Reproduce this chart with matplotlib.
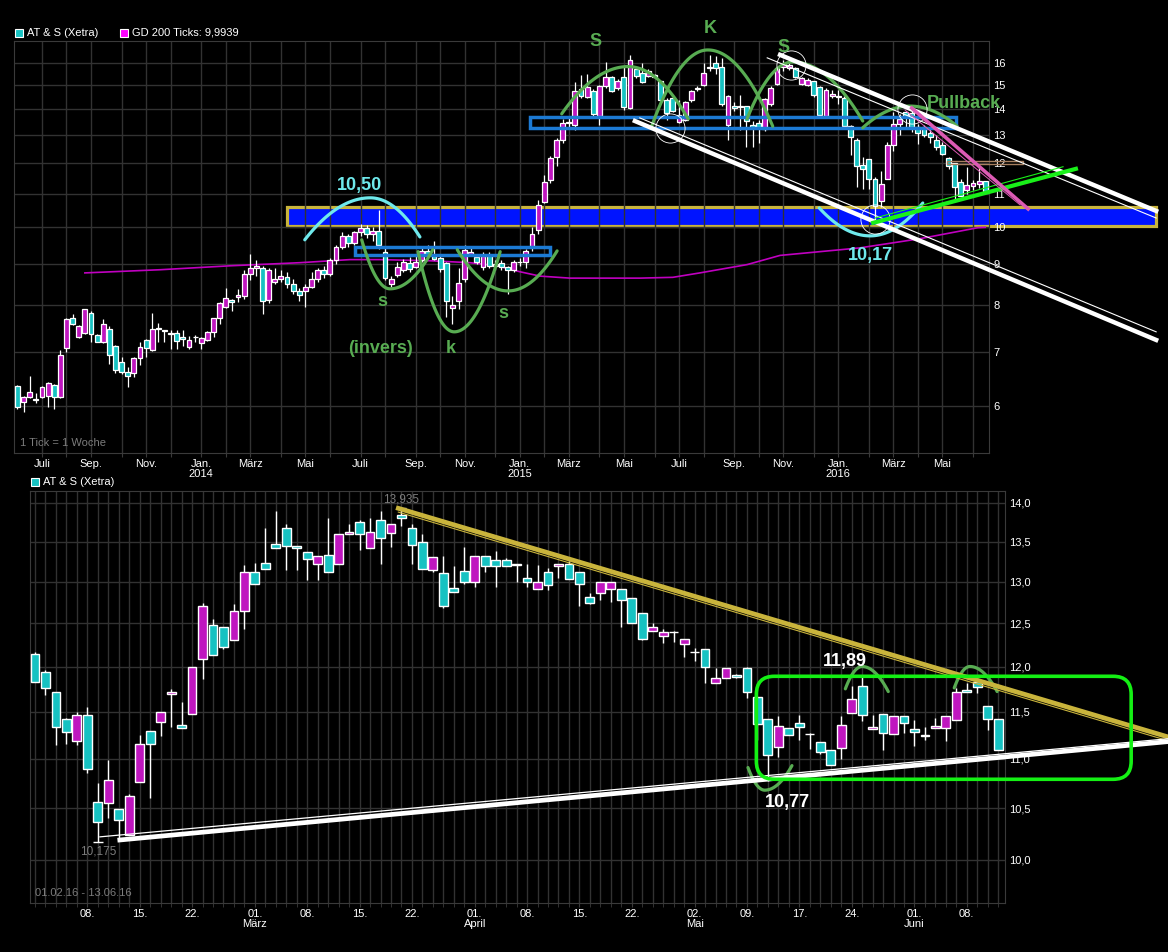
import datetime as dt
import numpy as np
import pandas as pd
import matplotlib
matplotlib.use('Agg')
import matplotlib.pyplot as plt
from matplotlib.patches import Rectangle, FancyBboxPatch
from matplotlib.transforms import IdentityTransform
from matplotlib.ticker import FixedLocator, NullLocator

plt.rcParams['font.family'] = ['Liberation Sans', 'DejaVu Sans']

## Weekly candles AT&S (Xetra), weeks starting 03.06.2013 ... 13.06.2016
w_open = [6.34, 6.06, 6.15, 6.11, 6.15, 6.17, 6.36, 6.15, 7.07, 7.70,
          7.30, 7.39, 7.81, 7.35, 7.20, 7.48, 7.11, 6.80, 6.60, 6.58,
          6.88, 7.23, 7.04, 7.50, 7.44, 7.38, 7.38, 7.31, 7.10, 7.31,
          7.18, 7.24, 7.40, 7.70, 7.95, 8.12, 8.18, 8.20, 8.75, 8.90,
          8.90, 8.12, 8.55, 8.62, 8.68, 8.50, 8.32, 8.32, 8.42, 8.62,
          8.85, 8.75, 9.10, 9.45, 9.75, 9.55, 9.85, 9.98, 9.80, 9.90,
          9.32, 8.50, 8.72, 8.84, 9.01, 8.93, 9.11, 9.34, 9.20, 9.14,
          9.01, 7.93, 8.10, 8.61, 9.26, 9.18, 8.91, 9.23, 8.95, 9.01,
          8.91, 8.85, 9.06, 9.05, 9.45, 9.92, 10.75, 11.44, 12.21, 12.83,
          13.45, 13.40, 14.82, 14.50, 14.75, 13.72, 14.97, 15.34, 14.88, 15.37,
          14.06, 15.70, 15.55, 15.40, 15.43, 15.17, 14.38, 14.45, 13.52, 13.58,
          14.38, 14.82, 15.01, 15.75, 16.00, 15.82, 13.40, 14.15, 14.12, 14.12,
          13.40, 13.48, 13.23, 14.22, 15.07, 15.80, 15.75, 15.75, 15.07, 15.01,
          15.17, 14.91, 13.72, 14.53, 14.55, 14.48, 13.36, 12.83, 11.95, 12.14,
          11.46, 10.76, 11.48, 12.64, 13.44, 13.88, 13.84, 13.30, 13.30, 13.10,
          12.83, 12.64, 12.17, 12.00, 11.38, 11.11, 11.25, 11.32, 11.42]
w_high = [6.36, 6.17, 6.54, 6.22, 6.35, 6.42, 6.38, 7.03, 7.70, 7.79,
          7.56, 7.92, 7.87, 7.37, 7.69, 7.53, 7.13, 6.90, 6.70, 6.90,
          7.20, 7.25, 7.81, 7.60, 7.45, 7.44, 7.45, 7.45, 7.33, 7.35,
          7.30, 7.43, 7.72, 8.06, 8.39, 8.14, 8.38, 8.85, 9.25, 9.10,
          8.95, 8.90, 8.90, 8.85, 8.80, 8.62, 8.40, 8.50, 8.80, 8.90,
          8.95, 9.15, 9.50, 9.85, 9.80, 9.90, 10.10, 10.05, 10.00, 10.50,
          9.45, 8.70, 9.06, 9.13, 9.18, 9.20, 9.45, 9.50, 9.60, 9.20,
          9.05, 8.20, 8.90, 9.50, 9.45, 9.25, 9.32, 9.30, 9.10, 9.10,
          8.95, 9.10, 9.15, 9.40, 9.99, 10.81, 11.60, 12.25, 12.90, 13.60,
          13.70, 15.15, 15.45, 15.50, 14.85, 15.00, 16.05, 15.40, 15.25, 15.82,
          16.36, 15.80, 16.00, 15.70, 15.50, 15.20, 14.45, 14.50, 14.38, 14.35,
          14.80, 14.95, 15.97, 16.35, 16.30, 16.20, 14.60, 14.30, 14.59, 14.15,
          13.55, 13.58, 14.45, 14.95, 15.80, 16.10, 16.00, 15.80, 15.35, 15.30,
          15.20, 14.95, 14.90, 14.80, 14.80, 14.55, 13.40, 12.90, 12.20, 12.14,
          11.55, 11.75, 12.74, 13.89, 13.80, 13.93, 13.935, 13.43, 13.38, 13.25,
          13.00, 12.75, 12.21, 12.00, 11.46, 11.87, 11.45, 11.87, 11.42]
w_low = [5.95, 5.89, 6.13, 6.04, 6.13, 5.98, 5.94, 6.13, 7.00, 7.55,
         7.28, 7.37, 7.20, 7.19, 7.18, 6.76, 6.58, 6.57, 6.33, 6.52,
         6.74, 6.90, 7.02, 7.20, 7.20, 7.05, 7.05, 7.12, 7.05, 7.20,
         7.05, 7.22, 7.31, 7.57, 7.93, 7.87, 8.08, 8.15, 8.60, 8.70,
         7.80, 8.05, 8.50, 8.55, 8.40, 8.25, 8.10, 7.96, 8.40, 8.55,
         8.65, 8.70, 9.00, 9.40, 9.45, 9.50, 9.75, 9.70, 9.60, 9.40,
         8.60, 8.42, 8.66, 8.80, 8.80, 8.90, 9.05, 9.20, 9.10, 8.80,
         7.73, 7.57, 7.90, 8.55, 9.20, 9.00, 8.85, 8.90, 8.85, 8.85,
         8.25, 8.80, 8.95, 8.90, 9.35, 9.80, 10.70, 11.35, 11.92, 12.70,
         13.30, 13.20, 14.45, 14.45, 13.70, 13.39, 14.90, 14.70, 14.80, 13.98,
         14.00, 15.30, 15.10, 15.35, 15.30, 14.30, 13.58, 13.90, 13.45, 13.55,
         14.30, 14.75, 14.95, 15.60, 15.50, 14.15, 12.83, 13.95, 13.20, 12.58,
         12.58, 12.70, 13.15, 14.15, 15.00, 15.60, 15.65, 15.30, 15.00, 14.95,
         14.50, 13.70, 13.65, 14.45, 14.20, 13.30, 12.30, 11.20, 11.15, 11.14,
         10.17, 10.60, 11.48, 12.43, 13.02, 13.22, 13.12, 12.68, 12.93, 12.71,
         12.46, 12.27, 11.82, 10.77, 10.94, 11.00, 11.13, 11.19, 11.09]
w_close = [5.97, 6.15, 6.24, 6.10, 6.33, 6.40, 6.15, 6.94, 7.68, 7.58,
           7.53, 7.90, 7.36, 7.20, 7.57, 6.94, 6.65, 6.60, 6.54, 6.88,
           7.10, 7.07, 7.48, 7.46, 7.43, 7.37, 7.22, 7.26, 7.23, 7.31,
           7.29, 7.41, 7.70, 8.04, 8.16, 8.07, 8.23, 8.75, 8.90, 8.95,
           8.10, 8.85, 8.62, 8.70, 8.50, 8.32, 8.23, 8.42, 8.62, 8.85,
           8.75, 9.10, 9.45, 9.75, 9.55, 9.85, 9.98, 9.80, 9.90, 9.50,
           8.64, 8.62, 8.93, 9.05, 8.86, 9.06, 9.35, 9.23, 9.12, 8.86,
           8.09, 8.00, 8.53, 9.37, 9.32, 9.06, 9.20, 8.95, 9.00, 8.91,
           8.85, 9.04, 9.05, 9.35, 9.80, 10.65, 11.38, 12.19, 12.83, 13.45,
           13.50, 14.75, 14.54, 14.91, 13.82, 14.97, 15.37, 14.75, 15.18, 14.10,
           16.12, 15.40, 15.14, 15.62, 15.34, 14.38, 13.85, 13.94, 13.78, 14.31,
           14.76, 14.86, 15.55, 15.80, 15.75, 14.22, 14.55, 14.07, 14.08, 13.53,
           13.30, 13.30, 14.40, 14.90, 15.75, 15.95, 15.90, 15.37, 15.30, 15.23,
           14.59, 13.78, 14.80, 14.62, 14.50, 13.36, 12.93, 11.92, 11.80, 11.46,
           10.62, 11.32, 12.64, 13.44, 13.60, 13.72, 13.31, 13.09, 13.01, 12.95,
           12.57, 12.32, 11.90, 11.22, 10.94, 11.28, 11.35, 11.42, 11.09]
week_start = dt.date(2013, 6, 3)

## GD 200 (week index, value)
gd_week = [11, 23.3, 34.7, 46.1, 54.3, 59.2, 67.3, 73.9, 78.3, 82, 85.3, 90.2,
           101.6, 107, 111.4, 119.1, 124.5, 137.5, 147.3, 156.8, 158]
gd_value = [8.77, 8.85, 8.95, 9.03, 9.11, 9.11, 9.08, 9.03, 8.95, 8.80, 8.69, 8.64,
            8.64, 8.66, 8.77, 8.98, 9.22, 9.42, 9.67, 9.98, 9.99]

## Daily candles 01.02.16 - 13.06.16
d_open = [12.14, 11.94, 11.71, 11.42, 11.19, 11.46, 10.56, 10.55, 10.49, 10.24,
          10.76, 11.29, 11.39, 11.69, 11.36, 11.48, 12.09, 12.48, 12.45, 12.30,
          12.64, 13.12, 13.23, 13.47, 13.68, 13.44, 13.37, 13.22, 13.33, 13.22,
          13.60, 13.75, 13.42, 13.78, 13.61, 13.84, 13.68, 13.50, 13.14, 13.10,
          12.92, 13.13, 13.00, 13.32, 13.27, 13.27, 13.22, 13.05, 12.91, 13.12,
          13.19, 13.22, 13.12, 12.81, 12.86, 12.91, 12.91, 12.80, 12.62, 12.41,
          12.35, 12.40, 12.26, 12.16, 12.20, 11.81, 11.87, 11.90, 11.98, 11.66,
          11.42, 11.12, 11.32, 11.38, 11.26, 11.18, 11.09, 11.11, 11.49, 11.78,
          11.31, 11.47, 11.26, 11.45, 11.31, 11.25, 11.32, 11.32, 11.41, 11.74,
          11.83, 11.56, 11.42]
d_high = [12.16, 11.96, 11.72, 11.43, 11.50, 11.55, 10.75, 10.99, 10.49, 10.64,
          11.25, 11.29, 11.50, 11.75, 11.61, 12.00, 12.74, 12.55, 12.45, 12.73,
          13.20, 13.23, 13.67, 13.89, 13.72, 13.44, 13.37, 13.32, 13.80, 13.60,
          13.73, 13.78, 13.80, 13.90, 13.72, 13.935, 13.72, 13.60, 13.31, 13.32,
          13.19, 13.43, 13.32, 13.32, 13.38, 13.29, 13.22, 13.22, 13.20, 13.17,
          13.22, 13.25, 13.12, 12.86, 13.00, 13.00, 12.91, 12.80, 12.62, 12.50,
          12.43, 12.41, 12.31, 12.21, 12.20, 11.98, 11.98, 11.92, 12.00, 11.66,
          11.42, 11.45, 11.32, 11.46, 11.27, 11.18, 11.09, 11.45, 11.78, 11.89,
          11.46, 11.47, 11.45, 11.45, 11.41, 11.34, 11.43, 11.45, 11.76, 11.82,
          11.87, 11.56, 11.42]
d_low = [11.83, 11.68, 11.14, 11.16, 11.14, 10.85, 10.175, 10.40, 10.19, 10.24,
         10.76, 10.60, 11.24, 11.34, 11.32, 11.48, 11.86, 12.13, 12.20, 12.30,
         12.43, 12.97, 13.16, 13.42, 13.14, 13.14, 13.02, 13.02, 13.12, 13.22,
         13.60, 13.39, 13.42, 13.22, 13.43, 13.70, 13.22, 13.16, 13.12, 12.68,
         12.87, 12.97, 12.93, 13.12, 12.93, 13.19, 13.00, 12.93, 12.91, 12.90,
         13.05, 13.03, 12.71, 12.73, 12.78, 12.75, 12.46, 12.50, 12.30, 12.41,
         12.27, 12.28, 12.11, 12.06, 11.82, 11.81, 11.87, 11.87, 11.65, 11.20,
         10.77, 11.02, 11.25, 11.20, 11.10, 11.05, 10.94, 11.00, 11.49, 11.40,
         11.31, 11.09, 11.26, 11.27, 11.13, 11.20, 11.32, 11.19, 11.41, 11.72,
         11.70, 11.30, 11.09]
d_close = [11.83, 11.76, 11.34, 11.28, 11.46, 10.90, 10.36, 10.78, 10.38, 10.62,
           11.15, 11.16, 11.50, 11.72, 11.32, 12.00, 12.70, 12.13, 12.22, 12.64,
           13.12, 12.97, 13.16, 13.42, 13.44, 13.42, 13.28, 13.32, 13.12, 13.60,
           13.62, 13.60, 13.62, 13.55, 13.72, 13.80, 13.45, 13.16, 13.31, 12.70,
           12.87, 13.00, 13.32, 13.19, 13.19, 13.19, 13.20, 12.99, 13.00, 12.96,
           13.22, 13.03, 12.97, 12.74, 13.00, 13.00, 12.78, 12.50, 12.32, 12.46,
           12.40, 12.40, 12.31, 12.16, 12.00, 11.87, 11.98, 11.88, 11.72, 11.37,
           11.04, 11.35, 11.25, 11.34, 11.26, 11.07, 10.94, 11.36, 11.64, 11.46,
           11.34, 11.27, 11.45, 11.38, 11.28, 11.24, 11.35, 11.45, 11.71, 11.72,
           11.77, 11.42, 11.09]
holidays = ['2016-03-25', '2016-03-28', '2016-05-16']
day_ticks = ['2016-02-08', '2016-02-15', '2016-02-22', '2016-03-01', '2016-03-08',
             '2016-03-15', '2016-03-22', '2016-04-01', '2016-04-08', '2016-04-15',
             '2016-04-22', '2016-05-02', '2016-05-09', '2016-05-17', '2016-05-24',
             '2016-06-01', '2016-06-08']
month_de = {1: 'Jan.', 2: 'Feb.', 3: 'März', 4: 'April', 5: 'Mai', 6: 'Juni',
            7: 'Juli', 8: 'Aug.', 9: 'Sep.', 10: 'Okt.', 11: 'Nov.', 12: 'Dez.'}

## Drawings on the weekly chart (week index, price)
zone = (44.0, 185.9, 10.02, 10.58)
neck_boxes = [(55.1, 86.9, 9.24, 9.45), (83.6, 153.3, 13.29, 13.69)]
green_arcs = [((56.2, 9.64), (60.8, 8.38), (67.8, 9.37)),
              ((65.4, 9.32), (71.3, 7.41), (78.8, 9.32)),
              ((71.8, 9.37), (80.1, 8.33), (88.1, 9.34)),
              ((88.85, 13.82), (99.7, 15.82), (109.5, 13.62)),
              ((103.5, 13.32), (112.7, 16.59), (123.3, 13.34)),
              ((119.1, 13.62), (126.6, 16.03), (138.0, 13.54)),
              ((138.0, 13.28), (145.7, 14.13), (153.4, 13.34))]
green_words = [('s', 59.5, 8.07), ('(invers)', 59.3, 7.06), ('k', 70.8, 7.06),
               ('s', 79.3, 7.82), ('S', 94.3, 16.98), ('K', 113.1, 17.62),
               ('S', 125.0, 16.73), ('Pullback', 154.5, 14.22)]
cyan_arcs = [((46.9, 9.64), (57.6, 10.87), (65.7, 9.72)),
             ((130.9, 10.56), (139.2, 9.75), (147.8, 10.71))]
cyan_words = [('10,50', 55.9, 11.25), ('10,17', 139.2, 9.23)]
white_lines = [((124.5, 16.36), (185.9, 10.47), 3.2), ((122.4, 16.22), (185.9, 10.26), 0.8),
               ((100.8, 13.54), (185.9, 7.24), 3.2), ((101.6, 13.66), (185.9, 7.41), 0.8)]
lime_lines = [((139.7, 10.12), (172.8, 11.81), 3.0), ((140.0, 10.26), (170.7, 11.88), 0.8)]
pink_lines = [((146.0, 14.05), (165.0, 10.53), 2.6), ((144.9, 13.97), (163.7, 10.65), 0.7)]
tan_box = (151.8, 164.2, 11.98, 12.08)
rings = [(106.5, 13.28), (126.3, 15.9), (146.0, 14.02), (140.0, 10.23)]

## Drawings on the daily chart (day index, price)
yellow_lines = [((34.7, 13.93), (108.2, 11.23), 3.4), ((34.7, 13.88), (108.2, 11.19), 0.8)]
support_lines = [((8.1, 10.19), (108.2, 11.18), 3.4), ((6.2, 10.22), (108.2, 11.21), 0.9)]
range_box = (68.9, 104.7, 10.79, 11.89)
d_green_arcs = [((77.4, 11.75), (79.0, 12.0), (81.5, 11.72)),
                ((87.8, 11.76), (89.3, 12.0), (91.9, 11.72)),
                ((68.1, 10.91), (69.7, 10.68), (72.3, 10.93))]
d_words = [('11,89', 77.4, 12.06), ('10,77', 71.9, 10.56)]

CYAN = '#16c2c2'
MAGENTA = '#bf16bf'
GRID = '#323232'
GREEN = '#58ac52'
LIGHTCYAN = '#6fe9ec'
W, H = 1168, 952


def draw_candles(ax, o, h, l, c, width, lw):
    x = np.arange(len(o))
    o, h, l, c = map(np.asarray, (o, h, l, c))
    ax.vlines(x, l, h, color='white', lw=lw, zorder=3)
    for xi, oi, ci in zip(x, o, c):
        b, t = min(oi, ci), max(oi, ci)
        ax.add_patch(Rectangle((xi - width / 2, b), width, t - b,
                               facecolor=MAGENTA if ci >= oi else CYAN,
                               edgecolor='white', lw=lw, zorder=4))


def arc(ax, p0, pk, p1, **kw):
    t = np.linspace(0, 1, 40)
    ya, yk, yb = np.log([p0[1], pk[1], p1[1]])
    x = np.r_[p0[0] + (pk[0] - p0[0]) * t, pk[0] + (p1[0] - pk[0]) * t]
    y = np.r_[yk + (ya - yk) * (1 - t) ** 2, yk + (yb - yk) * t ** 2]
    ax.plot(x, np.exp(y), clip_on=False, solid_capstyle='round', zorder=6, **kw)


def style(ax):
    ax.set_facecolor('black')
    for s in ax.spines.values():
        s.set_color('#3a3a3a')
    ax.set_axisbelow(True)
    ax.set_yscale('log')
    ax.yaxis.tick_right()
    ax.yaxis.set_minor_locator(NullLocator())
    ax.tick_params(colors='white', labelsize=8)
    ax.tick_params(axis='y', length=0, pad=3)
    ax.tick_params(axis='x', which='both', length=3, color='#3a3a3a', pad=1.5)


fig = plt.figure(figsize=(W / 100, H / 100), dpi=100, facecolor='black')
ax1 = fig.add_axes([14 / W, 1 - 452.7 / H, 975 / W, 411.7 / H])
ax2 = fig.add_axes([30 / W, 1 - 902.7 / H, 974.7 / W, 411.7 / H])

## ---------------- weekly chart ----------------
style(ax1)
draw_candles(ax1, w_open, w_high, w_low, w_close, 0.8, 0.9)
ax1.plot(gd_week, gd_value, color='#c000c0', lw=1.2, zorder=2)
ax1.set_xlim(-0.571, 158.61)
ax1.set_ylim(5.245, 17.02)
ax1.yaxis.set_major_locator(FixedLocator(range(6, 17)))
ax1.set_yticklabels([str(v) for v in range(6, 17)])

m_pos, m_lab = [], []
for year in range(2013, 2017):
    for month in range(1, 13):
        k = (dt.date(year, month, 1) - week_start).days // 7
        if 0 < k < len(w_open):
            m_pos.append(k)
            lab = month_de[month] if month % 2 == 1 else ''
            if month == 1:
                lab += '\n%d' % year
            m_lab.append(lab)
ax1.set_xticks(m_pos)
ax1.set_xticklabels(m_lab, linespacing=1.0)
ax1.grid(True, color=GRID, lw=1)

x0, x1, lo, hi = zone
ax1.add_patch(Rectangle((x0, lo), x1 - x0, hi - lo, facecolor='#0014ff',
                        edgecolor='#c9b43c', lw=2.3, zorder=0.4, clip_on=False))
for a, b, lo, hi in neck_boxes:
    ax1.add_patch(Rectangle((a, lo), b - a, hi - lo, fill=False, edgecolor='#1c7ad4',
                            lw=2.5, zorder=5, clip_on=False))
for p in green_arcs:
    arc(ax1, *p, color=GREEN, lw=2.3)
for p in cyan_arcs:
    arc(ax1, *p, color=LIGHTCYAN, lw=2.3)
for (xa, ya), (xb, yb), w in white_lines:
    ax1.plot([xa, xb], [ya, yb], color='white', lw=w, zorder=7, clip_on=False)
for (xa, ya), (xb, yb), w in lime_lines:
    ax1.plot([xa, xb], [ya, yb], color='#19f019', lw=w, zorder=8, clip_on=False)
for (xa, ya), (xb, yb), w in pink_lines:
    ax1.plot([xa, xb], [ya, yb], color='#dc5ab4', lw=w, zorder=8, clip_on=False)
a, b, lo, hi = tan_box
ax1.add_patch(Rectangle((a, lo), b - a, hi - lo, fill=False, edgecolor='#a88060',
                        lw=1, zorder=6, clip_on=False))
for xr, yr in rings:
    ax1.plot(xr, yr, 'o', ms=21, mfc='none', mec='white', mew=0.6, zorder=7,
             clip_on=False)
for txt, xt, yt in green_words:
    ax1.text(xt, yt, txt, color=GREEN, fontsize=13, fontweight='bold',
             ha='center', va='center', zorder=9, clip_on=False)
for txt, xt, yt in cyan_words:
    ax1.text(xt, yt, txt, color=LIGHTCYAN, fontsize=13, fontweight='bold',
             ha='center', va='center', zorder=9, clip_on=False)
ax1.text(0.006, 0.023, '1 Tick = 1 Woche', transform=ax1.transAxes, color='#7c7c7c',
         fontsize=8, va='center')

## ---------------- daily chart ----------------
days = pd.bdate_range('2016-02-01', '2016-06-13', freq='C', holidays=holidays)
style(ax2)
draw_candles(ax2, d_open, d_high, d_low, d_close, 0.84, 1.0)
ax2.set_xlim(-0.478, 92.62)
ax2.set_ylim(9.605, 14.159)
levels = np.arange(10.0, 14.01, 0.5)
ax2.yaxis.set_major_locator(FixedLocator(levels))
ax2.set_yticklabels([('%.1f' % v).replace('.', ',') for v in levels])

t_pos, t_lab = [], []
for s in day_ticks:
    d = pd.Timestamp(s)
    t_pos.append(days.get_loc(d))
    lab = d.strftime('%d.')
    if d.day <= 2:
        lab += '\n' + month_de[d.month]
    t_lab.append(lab)
ax2.set_xticks(t_pos)
ax2.set_xticklabels(t_lab, linespacing=1.0)
ax2.xaxis.set_minor_locator(FixedLocator(np.arange(len(days))))
ax2.grid(True, which='both', axis='x', color=GRID, lw=1)
ax2.grid(True, which='major', axis='y', color=GRID, lw=1)

i_hi = int(np.argmax(d_high))
i_lo = int(np.argmin(d_low))
ax2.hlines([d_high[i_hi], d_low[i_lo]], [i_hi - 0.45, i_lo - 0.45],
           [i_hi + 0.45, i_lo + 0.45], color='white', lw=1, zorder=5)
ax2.annotate(('%.3f' % d_high[i_hi]).replace('.', ','), (i_hi, d_high[i_hi]),
             xytext=(0, 1.5), textcoords='offset points', ha='center', va='bottom',
             color='#7c7c7c', fontsize=8.5, zorder=9)
ax2.annotate(('%.3f' % d_low[i_lo]).replace('.', ','), (i_lo, d_low[i_lo]),
             xytext=(0, -3), textcoords='offset points', ha='center', va='top',
             color='#7c7c7c', fontsize=8.5, zorder=9)

for (xa, ya), (xb, yb), w in yellow_lines:
    ax2.plot([xa, xb], [ya, yb], color='#c9b43c', lw=w, zorder=7, clip_on=False)
for (xa, ya), (xb, yb), w in support_lines:
    ax2.plot([xa, xb], [ya, yb], color='white', lw=w, zorder=7, clip_on=False)
for p in d_green_arcs:
    arc(ax2, *p, color=GREEN, lw=2.3)
for txt, xt, yt in d_words:
    ax2.text(xt, yt, txt, color='white', fontsize=13, fontweight='bold',
             ha='center', va='center', zorder=9, clip_on=False)

a, b, lo, hi = range_box
(px0, py0), (px1, py1) = ax2.transData.transform([(a, lo), (b, hi)])
fig.add_artist(FancyBboxPatch((px0, py0), px1 - px0, py1 - py0,
                              boxstyle='round,pad=0,rounding_size=18',
                              transform=IdentityTransform(), fill=False,
                              edgecolor='#14f014', lw=2.6, zorder=8))
ax2.text(0.005, 0.023, '01.02.16 - 13.06.16', transform=ax2.transAxes,
         color='#7c7c7c', fontsize=8, va='center')

## legends
def legend_entry(x, y, color, label):
    fig.add_artist(Rectangle((x / W, 1 - (y + 4) / H), 8 / W, 8 / H, facecolor=color,
                             edgecolor='white', lw=0.8, transform=fig.transFigure))
    fig.text((x + 12) / W, 1 - y / H, label, color='white', fontsize=8, va='center')


legend_entry(15, 32.5, CYAN, 'AT & S (Xetra)')
legend_entry(120, 32.5, '#ff00ff', 'GD 200 Ticks: ' + ('%.4f' % 9.9939).replace('.', ','))
legend_entry(31, 482, CYAN, 'AT & S (Xetra)')

fig.savefig('out.png', dpi=100, facecolor='black')
